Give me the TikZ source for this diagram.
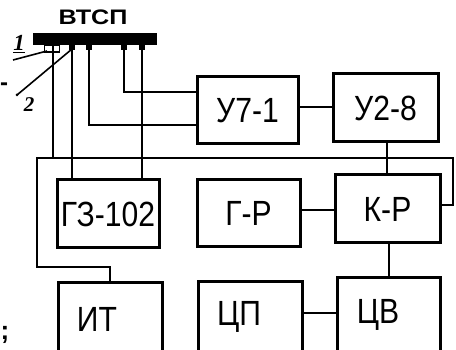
\documentclass[tikz,border=0pt]{standalone}
\usepackage{fontspec}
\setmainfont{Liberation Sans}
\newfontfamily\widefont[FakeStretch=1.2]{Liberation Sans}
\newfontfamily\narrowfont[FakeStretch=0.86]{Liberation Sans}
\newfontfamily\handfont{Liberation Serif}
\begin{document}
\begin{tikzpicture}[x=1pt,y=-1pt,
  blk/.style={draw, line width=3pt, inner sep=0pt, outer sep=0pt},
  lbltxt/.style={inner sep=0pt, font=\narrowfont\fontsize{35}{35}\selectfont},
  wire/.style={line width=2.6pt},
  fine/.style={line width=1.6pt},
  tabbox/.style={fill=black, inner sep=0pt, outer sep=0pt, minimum width=6pt, minimum height=5pt, anchor=north}]
\useasboundingbox (0,0) rectangle (456,350);
\clip (0,0) rectangle (456,350);
% helper coordinates
\coordinate (c1) at (53,0);
\coordinate (c2) at (72,0);
\coordinate (c3) at (89,0);
\coordinate (c4) at (124,0);
\coordinate (c5) at (142,0);
\coordinate (h92) at (0,92);
\coordinate (h107) at (0,107);
\coordinate (h125) at (0,125);
\coordinate (h205) at (0,205);
\coordinate (h210) at (0,210);
\coordinate (h313) at (0,313);
\coordinate (v387) at (387,0);
\coordinate (v389) at (389,0);
\coordinate (jl) at (37,158);
\coordinate (jr) at (453,158);
\coordinate (p1) at (13,60);
\coordinate (p2) at (17,95);
% bar
\node[fill=black, inner sep=0pt, outer sep=0pt, minimum width=124pt, minimum height=12pt] (bar) at (95,39) {};
\node[inner sep=0pt, font=\widefont\bfseries\fontsize{21}{21}\selectfont] (barlbl) at (93,17) {ВТСП};
% blocks
\node[blk, minimum width=101pt, minimum height=67pt] (u71) at (247.5,110.5) {};
\node[lbltxt] at (u71) {У7-1};
\node[blk, minimum width=105pt, minimum height=68pt] (u28) at (385.5,108) {};
\node[lbltxt] at (u28) {У2-8};
\node[blk, minimum width=102pt, minimum height=68pt] (g3) at (108,214) {};
\node[lbltxt] at (g3) {ГЗ-102};
\node[blk, minimum width=103pt, minimum height=67pt] (gr) at (248.5,213.5) {};
\node[lbltxt] at (gr) {Г-Р};
\node[blk, minimum width=105pt, minimum height=68pt] (kr) at (387.5,209) {};
\node[lbltxt] at (kr) {К-Р};
\node[blk, minimum width=104pt, minimum height=90pt] (it) at (110,328) {};
\node[lbltxt] at (97,319) {ИТ};
\node[blk, minimum width=104pt, minimum height=80pt] (cp) at (250,322) {};
\node[lbltxt] at (239,317) {ЦП};
\node[blk, minimum width=103pt, minimum height=84pt] (cv) at (388.5,320) {};
\node[lbltxt] at (378,315) {ЦВ};
% contacts under the bar
\node[draw, line width=1.8pt, inner sep=0pt, outer sep=0pt, minimum width=15pt, minimum height=7pt, anchor=north] (k1) at (52,45) {};
\node[tabbox] at (bar.south -| c2) {};
\node[tabbox] at (bar.south -| c3) {};
\node[tabbox] at (bar.south -| c4) {};
\node[tabbox] at (bar.south -| c5) {};
% wires from the bar
\draw[wire] (bar.south -| c1) -- (c1 |- jl);
\draw[wire] (bar.south -| c2) -- (g3.north -| c2);
\draw[wire] (bar.south -| c5) -- (g3.north -| c5);
\draw[wire] (bar.south -| c3) |- (u71.west |- h125);
\draw[wire] (bar.south -| c4) |- (u71.west |- h92);
% loop
\draw[wire] (it.north) -- ++(0,-16) -| (jl) -- (jr) |- (kr.east |- h205);
% block connections
\draw[wire] (u71.east |- h107) -- (u28.west |- h107);
\draw[wire] (u28.south -| v387) -- (kr.north -| v387);
\draw[wire] (gr.east |- h210) -- (kr.west |- h210);
\draw[wire] (kr.south -| v389) -- (cv.north -| v389);
\draw[wire] (cp.east |- h313) -- (cv.west |- h313);
% thermocouple leads and labels
\draw[fine] (p1) -- (47,51);
\draw[fine] (p2) -- (72,49);
\fill (p2) circle (1.5pt);
\node[inner sep=0pt, font=\handfont\bfseries\itshape\fontsize{23}{23}\selectfont] (n1) at (19,44) {\underline{1}};
\node[inner sep=0pt, font=\handfont\bfseries\itshape\fontsize{21}{21}\selectfont] (n2) at (29,105) {2};
\node[inner sep=0pt, font=\bfseries\fontsize{24}{24}\selectfont] (dash) at (4,87) {-};
\node[inner sep=0pt, font=\bfseries\fontsize{26}{26}\selectfont] (semi) at (5,335) {;};
\end{tikzpicture}
\end{document}
